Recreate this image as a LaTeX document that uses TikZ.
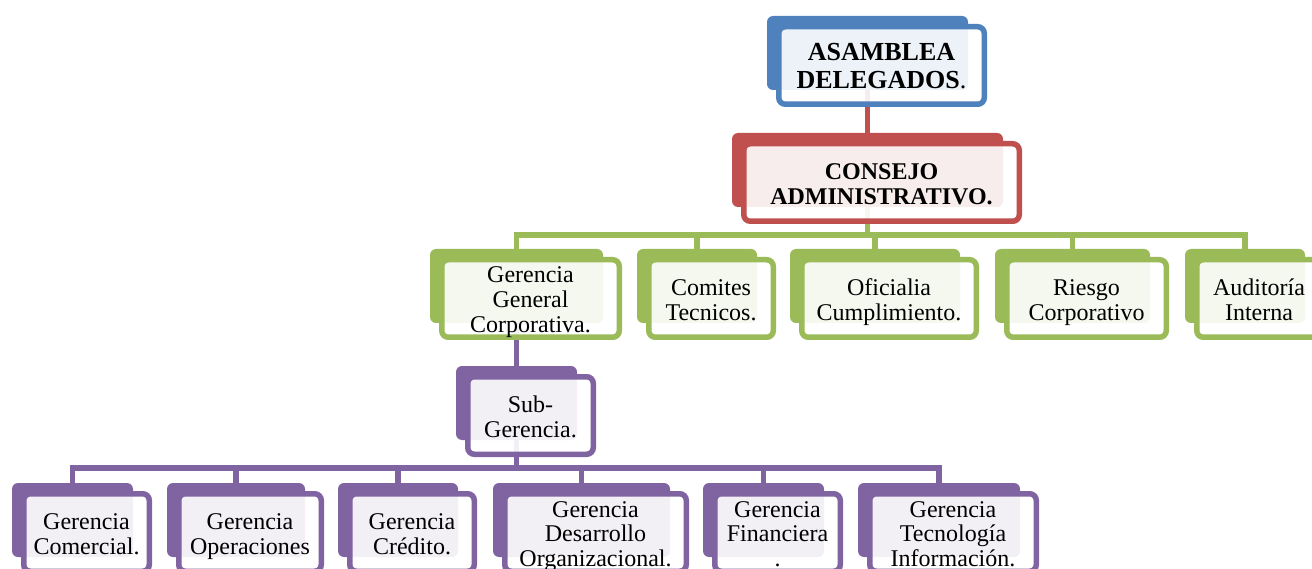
\documentclass[tikz,border=0pt]{standalone}
\usepackage{fontspec}
\setmainfont{Liberation Serif}
\usetikzlibrary{backgrounds}

\definecolor{accblue}{HTML}{4F81BD}
\definecolor{accred}{HTML}{C0504D}
\definecolor{accgreen}{HTML}{9BBB59}
\definecolor{accpurple}{HTML}{8064A2}

\tikzset{
  backbox/.style={rectangle, rounded corners=6, inner sep=0, outer sep=0},
  frontbox/.style={rectangle, rounded corners=6.5, line width=5.5,
    fill=white, fill opacity=0.9, inner sep=0, outer sep=0},
  link/.style={line width=5.5, line join=miter},
  label/.style={align=center, inner sep=0, yshift=-5,
    execute at begin node=\strut, execute at end node=\strut},
  toptext/.style={label, font=\fontsize{26}{28}\selectfont\bfseries},
  boardtext/.style={label, font=\fontsize{24}{25}\selectfont\bfseries},
  greentext/.style={label, font=\fontsize{24}{25}\selectfont},
  purpletext/.style={label, font=\fontsize{24}{24.5}\selectfont},
}

% #1 name, #2 left edge, #3 right edge, #4 top edge, #5 colour, #6 text style, #7 text
\newcommand\orgunit[7]{%
  \node[backbox, fill=#5, minimum width={#3-#2}, minimum height=74,
        anchor=north west] (#1-b) at (#2,#4) {};
  \node[frontbox, draw=#5, minimum width={#3-#2+10-5.5}, minimum height={83-5.5}]
        (#1-f) at ({(#2+#3)/2+14},{#4+49.5}) {};
  \node[#6] (#1) at (#1-f.center) {#7};
}

\begin{document}
\begin{tikzpicture}[x=1pt, y=-1pt]
  \useasboundingbox (0,0) rectangle (1312,569);
  \clip (0,0) rectangle (1312,569);

  % top levels
  \orgunit{asam}{767}{968}{16}{accblue}{toptext}{ASAMBLEA\\DELEGADOS{\mdseries.}}
  \orgunit{cons}{732}{1003}{133}{accred}{boardtext}{CONSEJO\\ADMINISTRATIVO.}

  % units reporting to the board
  \orgunit{gg}{430}{603}{249}{accgreen}{greentext}{Gerencia\\General\\Corporativa.}
  \orgunit{com}{637}{757}{249}{accgreen}{greentext}{Comites\\Tecnicos.}
  \orgunit{ofi}{790}{960}{249}{accgreen}{greentext}{Oficialia\\Cumplimiento.}
  \orgunit{rie}{995}{1150}{249}{accgreen}{greentext}{Riesgo\\Corporativo}
  \orgunit{aud}{1185}{1305}{249}{accgreen}{greentext}{Auditoría\\Interna}

  % sub-management and its departments
  \orgunit{sub}{456}{577}{366}{accpurple}{purpletext}{Sub-\\Gerencia.}
  \orgunit{comer}{12}{133}{483}{accpurple}{purpletext}{Gerencia\\Comercial.}
  \orgunit{oper}{167}{305}{483}{accpurple}{purpletext}{Gerencia\\Operaciones}
  \orgunit{cred}{338}{458}{483}{accpurple}{purpletext}{Gerencia\\Crédito.}
  \orgunit{desa}{493}{670}{483}{accpurple}{purpletext}{Gerencia\\Desarrollo\\Organizacional.}
  \orgunit{fina}{703}{824}{483}{accpurple}{purpletext}{Gerencia\\Financiera\\.}
  \orgunit{tecn}{858}{1020}{483}{accpurple}{purpletext}{Gerencia\\Tecnología\\Información.}

  \coordinate (gbar) at (0,235);
  \coordinate (pbar) at (0,468);

  % connectors sit underneath the boxes
  \begin{pgfonlayer}{background}
    \draw[link, accred] (asam-b.south) -- (cons-b.north);
    \foreach \c in {gg,com,ofi,rie,aud}
      \draw[link, accgreen] (cons-b.south) -- (cons-b.south |- gbar) -| (\c-b.north);
    \draw[link, accpurple] (gg-b.south) -- (sub-b.north);
    \foreach \c in {comer,oper,cred,desa,fina,tecn}
      \draw[link, accpurple] (sub-b.south) -- (sub-b.south |- pbar) -| (\c-b.north);
  \end{pgfonlayer}
\end{tikzpicture}
\end{document}
